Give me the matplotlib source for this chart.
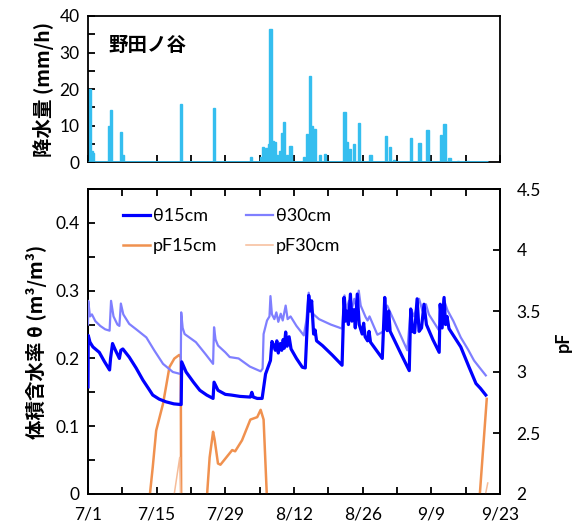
import numpy as np
import matplotlib
matplotlib.use("Agg")
import matplotlib.pyplot as plt
from matplotlib.ticker import MultipleLocator, FixedLocator, FixedFormatter

# ---------------- data (days since 7/1) ----------------
tick_labels = ['7/1', '7/15', '7/29', '8/12', '8/26', '9/9', '9/23']

rain_day = [0.05, 0.35, 0.7, 0.95, 4.4, 4.7, 6.7, 7.1, 19.0, 25.7, 33.3, 35.2,
            35.7, 36.4, 36.9, 37.2, 37.6, 38.1, 38.6, 39.1, 39.5, 40.0, 40.5,
            41.3, 44.0, 44.6, 45.2, 45.7, 46.2, 47.3, 48.4, 52.3, 52.7, 53.4,
            54.2, 55.2, 57.6, 60.7, 61.5, 62.4, 65.9, 67.6, 69.2, 71.9, 72.7,
            73.7, 75.4, 77.4]
rain_mm = [20.0, 20.0, 3.0, 2.5, 10.0, 14.3, 8.3, 2.0, 15.8, 14.8, 1.5, 1.5,
           4.0, 3.8, 5.0, 36.4, 5.8, 5.5, 2.0, 3.0, 8.0, 10.9, 2.0,
           4.5, 1.5, 7.7, 23.5, 10.0, 9.0, 2.0, 2.2, 13.6, 5.4, 3.5,
           5.0, 10.6, 2.0, 7.2, 4.2, 0.5, 6.6, 5.2, 8.8, 7.4, 10.4,
           1.0, 0.4, 0.2]

theta15_day = [0.0, 0.05, 0.4, 1.0, 2.3, 3.3, 4.4, 4.6, 5.0, 5.6, 6.4, 6.7, 7.1,
               8.4, 9.8, 11.2, 12.3, 13.2, 14.5, 15.9, 17.5, 18.9, 19.0, 19.1,
               20.0, 21.5, 22.8, 24.2, 25.5, 25.7, 26.5, 28.0, 29.2, 31.0, 33.1,
               33.4, 33.7, 34.5, 35.5, 36.2, 37.2, 37.5, 37.9, 38.2, 38.5, 38.8,
               39.2, 39.5, 39.8, 40.0, 40.3, 40.6, 41.0, 41.4, 42.5, 43.7, 44.3,
               44.7, 45.0, 45.3, 45.6, 46.0, 46.3, 46.6, 47.8, 49.8, 51.8, 52.2,
               52.5, 52.8, 53.1, 53.5, 53.8, 54.2, 54.5, 54.9, 55.3, 55.9, 56.2,
               56.5, 57.0, 57.3, 57.6, 58.3, 60.0, 60.5, 60.8, 61.0, 61.3, 61.6,
               62.0, 63.8, 65.5, 65.8, 66.2, 66.6, 67.1, 67.5, 68.0, 68.5, 69.0,
               70.3, 71.6, 71.8, 72.2, 72.6, 72.9, 73.2, 73.6, 76.0, 77.7, 79.1,
               80.0, 81.1]
theta15 = [0.158, 0.234, 0.224, 0.217, 0.209, 0.196, 0.183, 0.200, 0.222, 0.212,
           0.200, 0.212, 0.214, 0.202, 0.186, 0.168, 0.156, 0.146, 0.140, 0.136,
           0.133, 0.132, 0.132, 0.195, 0.180, 0.165, 0.153, 0.146, 0.141, 0.165,
           0.153, 0.147, 0.146, 0.144, 0.143, 0.150, 0.143, 0.141, 0.141, 0.177,
           0.197, 0.225, 0.219, 0.212, 0.226, 0.208, 0.222, 0.212, 0.228, 0.215,
           0.239, 0.218, 0.232, 0.214, 0.200, 0.187, 0.186, 0.250, 0.293, 0.270,
           0.285, 0.236, 0.242, 0.226, 0.219, 0.205, 0.190, 0.290, 0.255, 0.270,
           0.250, 0.295, 0.255, 0.272, 0.245, 0.295, 0.250, 0.236, 0.252, 0.232,
           0.226, 0.240, 0.224, 0.217, 0.200, 0.290, 0.250, 0.241, 0.270, 0.240,
           0.234, 0.207, 0.182, 0.273, 0.240, 0.238, 0.288, 0.240, 0.245, 0.280,
           0.250, 0.228, 0.209, 0.280, 0.245, 0.290, 0.250, 0.262, 0.244, 0.217,
           0.187, 0.163, 0.156, 0.146]

theta30_day = [0.0, 0.05, 0.4, 0.8, 1.5, 2.5, 3.5, 4.4, 4.7, 5.2, 6.0, 6.4, 6.7,
               7.2, 8.4, 10.0, 11.9, 13.5, 15.3, 17.3, 18.9, 19.0, 19.3, 19.7,
               22.0, 24.0, 25.5, 25.7, 26.0, 26.5, 28.0, 28.9, 30.7, 33.0, 35.2,
               35.6, 35.8, 36.5, 37.0, 37.2, 37.5, 38.0, 38.4, 38.8, 39.3, 39.7,
               40.3, 40.7, 41.3, 42.5, 44.0, 44.5, 45.0, 45.4, 46.0, 47.1, 49.5,
               51.8, 52.3, 52.7, 53.2, 53.7, 54.3, 54.8, 55.2, 55.6, 56.6, 57.0,
               57.4, 59.0, 60.3, 60.7, 61.0, 61.5, 63.0, 65.1, 65.8, 66.5, 67.5,
               68.2, 68.9, 69.5, 71.6, 72.0, 72.5, 73.3, 74.5, 76.0, 77.5, 78.7,
               80.0, 81.1]
theta30 = [0.250, 0.285, 0.262, 0.265, 0.255, 0.248, 0.243, 0.241, 0.285, 0.262,
           0.250, 0.248, 0.281, 0.265, 0.251, 0.242, 0.231, 0.212, 0.192, 0.180,
           0.177, 0.268, 0.245, 0.236, 0.224, 0.206, 0.192, 0.246, 0.228, 0.219,
           0.209, 0.202, 0.200, 0.188, 0.181, 0.185, 0.236, 0.256, 0.262, 0.292,
           0.265, 0.258, 0.268, 0.254, 0.266, 0.256, 0.278, 0.258, 0.262, 0.248,
           0.234, 0.255, 0.297, 0.275, 0.265, 0.258, 0.250, 0.244, 0.293, 0.272,
           0.285, 0.270, 0.288, 0.272, 0.300, 0.278, 0.261, 0.256, 0.262, 0.235,
           0.240, 0.275, 0.278, 0.270, 0.246, 0.212, 0.273, 0.262, 0.288, 0.270,
           0.280, 0.265, 0.241, 0.262, 0.288, 0.271, 0.255, 0.231, 0.213, 0.197,
           0.185, 0.175]

# NaN separates the periods where the sensor reading is shown
pf15_day = [12.5, 13.2, 13.9, 15.3, 16.0, 16.6, 17.6, 18.6, 18.9, 19.0, np.nan,
            24.2, 24.8, 25.5, 25.8, 26.5, 27.0, 28.0, 29.4, 30.0, 31.4, 32.0,
            33.1, 34.5, 35.2, 35.8, 36.5, np.nan,
            79.8, 81.3]
pf15 = [1.95, 2.22, 2.52, 2.74, 2.90, 3.04, 3.11, 3.14, 3.12, 1.90, np.nan,
        1.95, 2.30, 2.51, 2.45, 2.25, 2.24, 2.29, 2.36, 2.35, 2.44, 2.50,
        2.61, 2.63, 2.69, 2.61, 1.95, np.nan,
        1.95, 2.78]

pf30_day = [17.4, 18.7, 18.95, np.nan, 80.8, 81.5]
pf30 = [1.95, 2.30, 1.90, np.nan, 1.95, 2.09]

# ---------------- style ----------------
RAIN_C = '#35BEEF'
T15_C = '#0000FF'
T30_C = '#7F7FFF'
P15_C = '#F0914F'
P30_C = '#F6BC98'
NUM_FONT = ['Lato', 'DejaVu Sans']
CJK_FONT = ['Noto Sans CJK JP', 'DejaVu Sans']

plt.rcParams['font.family'] = NUM_FONT
plt.rcParams['axes.linewidth'] = 1.3

W, H = 576, 531
fig = plt.figure(figsize=(W / 100, H / 100), dpi=100)

x0, x1 = 88, 500
ax1 = fig.add_axes([x0 / W, 1 - 162 / H, (x1 - x0) / W, (162 - 16) / H])
ax2 = fig.add_axes([x0 / W, 1 - 494 / H, (x1 - x0) / W, (494 - 189) / H])

ndays = 84
week_ticks = list(range(0, ndays + 1, 7))

# ---- top: rainfall ----
ax1.bar(rain_day, rain_mm, width=0.45, color=RAIN_C, edgecolor=RAIN_C,
        linewidth=1.0, zorder=2)
ax1.hlines(0, rain_day[0], theta15_day[-1] + 0.5, color=RAIN_C, lw=2, zorder=3)
ax1.set_xlim(0, ndays)
ax1.set_ylim(0, 40)
ax1.yaxis.set_major_locator(MultipleLocator(10))
ax1.yaxis.set_minor_locator(MultipleLocator(5))
ax1.xaxis.set_major_locator(FixedLocator(week_ticks))
ax1.set_xticklabels([])
ax1.tick_params(axis='x', direction='in', length=5, width=1.3, bottom=True, top=False)
ax1.tick_params(axis='y', which='both', direction='in', width=1.3, left=True, right=False,
                labelsize=12.5, pad=6)
ax1.tick_params(axis='y', which='major', length=5)
ax1.tick_params(axis='y', which='minor', length=5)
ax1.set_ylabel('降水量 (mm/h)', family=CJK_FONT, fontsize=14, fontweight='bold', labelpad=4)
ax1.text(0.05, 0.80, '野田ノ谷', transform=ax1.transAxes, family=CJK_FONT,
         fontsize=14, fontweight='bold', va='center', ha='left')

# ---- bottom: soil moisture and pF ----
l1, = ax2.plot(theta15_day, theta15, color=T15_C, lw=2.3, label='θ15cm', zorder=4)
l2, = ax2.plot(theta30_day, theta30, color=T30_C, lw=1.6, label='θ30cm', zorder=3)
ax2.set_xlim(0, ndays)
ax2.set_ylim(0, 0.45)
ax2.yaxis.set_major_locator(FixedLocator([0, 0.1, 0.2, 0.3, 0.4]))
ax2.yaxis.set_major_formatter(FixedFormatter(['0', '0.1', '0.2', '0.3', '0.4']))
ax2.yaxis.set_minor_locator(MultipleLocator(0.05))
ax2.xaxis.set_major_locator(FixedLocator(week_ticks))
ax2.xaxis.set_major_formatter(FixedFormatter(
    [tick_labels[i // 2] if i % 2 == 0 else '' for i in range(len(week_ticks))]))
ax2.tick_params(axis='x', direction='in', length=5, width=1.3, bottom=True, top=True,
                labelsize=12.5, pad=9)
ax2.tick_params(axis='y', which='both', direction='in', length=5, width=1.3,
                left=True, right=False, labelsize=12.5, pad=6)
ax2.set_ylabel('体積含水率 θ (m³/m³)', family=CJK_FONT, fontsize=14,
               fontweight='bold', labelpad=6)

ax3 = ax2.twinx()
ax3.set_position(ax2.get_position())
l3, = ax3.plot(pf15_day, pf15, color=P15_C, lw=1.8, label='pF15cm', zorder=3)
l4, = ax3.plot(pf30_day, pf30, color=P30_C, lw=1.1, label='pF30cm', zorder=3)
ax3.set_ylim(2, 4.5)
ax3.yaxis.set_major_locator(FixedLocator([2, 2.5, 3, 3.5, 4, 4.5]))
ax3.yaxis.set_major_formatter(FixedFormatter(['2', '2.5', '3', '3.5', '4', '4.5']))
ax3.tick_params(axis='y', direction='in', length=5, width=1.3, labelsize=12.5, pad=12)
ax3.set_ylabel('pF', family=NUM_FONT, fontsize=13, fontweight='bold', labelpad=10)
ax2.set_zorder(ax3.get_zorder() + 1)
ax2.patch.set_visible(False)

# column-major filling: order handles so rows read θ15, θ30 / pF15, pF30
leg = ax2.legend([l1, l3, l2, l4], ['θ15cm', 'pF15cm', 'θ30cm', 'pF30cm'],
                 ncol=2, loc='upper left', bbox_to_anchor=(0.045, 0.99),
                 frameon=False, fontsize=13, handlelength=1.5, handletextpad=0.15,
                 columnspacing=1.6, labelspacing=0.75)

fig.savefig('out.png', dpi=100)
